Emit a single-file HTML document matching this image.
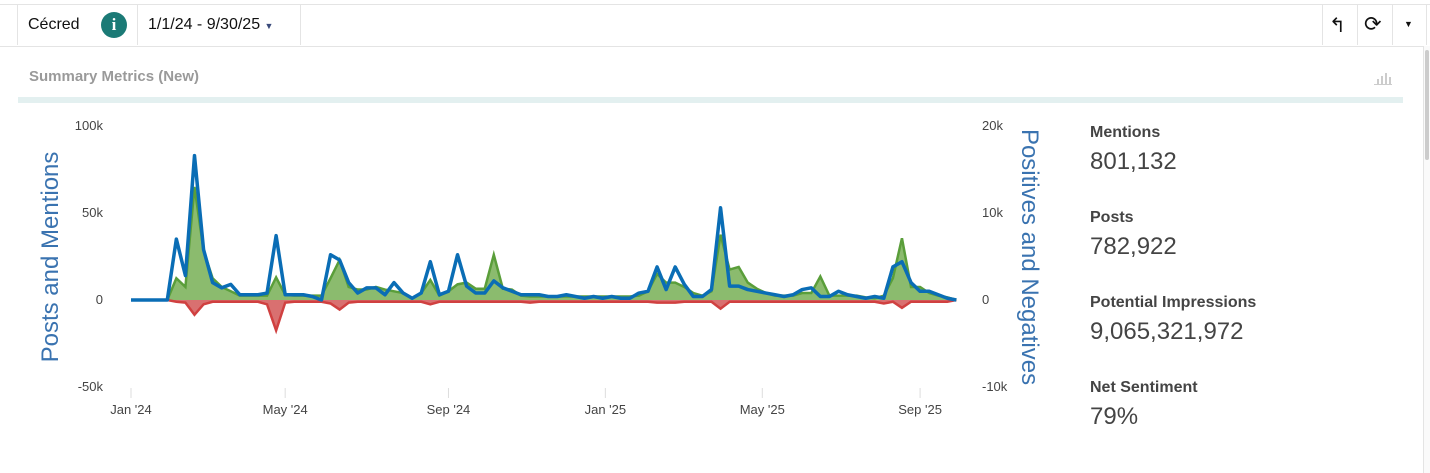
<!DOCTYPE html>
<html><head><meta charset="utf-8">
<style>
body{margin:0;width:1430px;height:473px;background:#fff;font-family:"Liberation Sans",sans-serif;overflow:hidden;position:relative}
.abs{position:absolute}
.metric-label{position:absolute;left:1090px;font-size:16px;font-weight:bold;color:#444}
.metric-value{position:absolute;left:1090px;font-size:24px;color:#444}
</style></head><body>
<div class="abs" style="left:0;top:4px;width:1430px;height:41px;border-top:1px solid #e4e4e4;border-bottom:1px solid #e4e4e4;background:#fff"></div>
<div class="abs" style="left:17px;top:5px;width:1px;height:40px;background:#e4e4e4"></div>
<div class="abs" style="left:28px;top:16px;font-size:16px;color:#111">Cécred</div>
<div class="abs" style="left:101px;top:12px;width:26px;height:26px;border-radius:50%;background:#1b7a76;color:#fff;font-weight:bold;font-size:17px;text-align:center;line-height:26px;font-family:'Liberation Serif',serif">i</div>
<div class="abs" style="left:137px;top:5px;width:1px;height:40px;background:#e4e4e4"></div>
<div class="abs" style="left:148px;top:16px;font-size:16px;color:#111">1/1/24 - 9/30/25 <span style="font-size:9px;color:#3a4a7a">▼</span></div>
<div class="abs" style="left:300px;top:5px;width:1px;height:40px;background:#e4e4e4"></div>
<div class="abs" style="left:1322px;top:5px;width:1px;height:40px;background:#e4e4e4"></div>
<div class="abs" style="left:1329px;top:13px;font-size:20px;color:#111">↰</div>
<div class="abs" style="left:1357px;top:5px;width:1px;height:40px;background:#e4e4e4"></div>
<div class="abs" style="left:1364px;top:12px;font-size:21px;color:#111;font-family:'DejaVu Sans',sans-serif">⟳</div>
<div class="abs" style="left:1392px;top:5px;width:1px;height:40px;background:#e4e4e4"></div>
<div class="abs" style="left:1404px;top:19px;font-size:9px;color:#111">▼</div>
<div class="abs" style="left:1426px;top:5px;width:1px;height:40px;background:#e4e4e4"></div>
<div class="abs" style="left:1423px;top:46px;width:7px;height:427px;border-left:1px solid #e4e4e4;background:#fafafa"><div style="margin:4px 1px;width:4px;height:110px;background:#ccc;border-radius:2px"></div></div>
<div class="abs" style="left:29px;top:68px;font-size:15px;font-weight:bold;color:#9a9a9a">Summary Metrics (New)</div>
<div class="abs" style="left:1374px;top:70px;width:18px;height:14px;border-bottom:1px solid #ccc">
<div style="position:absolute;left:3px;bottom:0;width:2px;height:5px;background:#ccc"></div><div style="position:absolute;left:7px;bottom:0;width:2px;height:8px;background:#ccc"></div><div style="position:absolute;left:11px;bottom:0;width:2px;height:11px;background:#ccc"></div><div style="position:absolute;left:15px;bottom:0;width:2px;height:7px;background:#ccc"></div></div>
<div class="abs" style="left:18px;top:97px;width:1385px;height:6px;background:#e3f0f0"></div>

<svg class="abs" style="left:0;top:0" width="1080" height="473">
<g id="axes"></g>
<g id="marks"></g>
</svg>

<div class="metric-label" style="top:124px">Mentions</div>
<div class="metric-value" style="top:148px">801,132</div>
<div class="metric-label" style="top:209px">Posts</div>
<div class="metric-value" style="top:233px">782,922</div>
<div class="metric-label" style="top:294px">Potential Impressions</div>
<div class="metric-value" style="top:318px">9,065,321,972</div>
<div class="metric-label" style="top:379px">Net Sentiment</div>
<div class="metric-value" style="top:403px">79%</div>

<script>
const mentions=[0,0,0,0,0,35,14,83,29,10,7,9,3,3,3,4,37,3,3,3,2,0,26,23,10,4,7,7,3,10,4,1,4,22,3,5,26,8,4,4,11,7,5,3,3,3,2,2,3,2,1,2,1,2,1,1,4,5,19,6,19,9,2,2,6,53,8,8,6,5,4,3,2,3,6,7,2,2,5,3,2,1,2,1,19,22,10,5,5,3,1,0];
const positives=[0,0,0,0,0,2.5,1.5,13,5.7,2.5,1.5,1,0.5,0.5,0.5,0.5,2.6,0.6,0.5,0.5,0.5,0.5,2.5,4.6,1.5,1.2,1.2,1.5,1.2,1,0.8,0.2,0.8,2.3,0.5,1,1.8,2,1.3,1.3,5.2,1.3,1.2,0.5,0.4,0.4,0.4,0.4,0.4,0.4,0.4,0.4,0.4,0.4,0.4,0.4,0.5,1,3,2,2,1.5,0.8,0.5,1,7.5,3.5,3.8,2,1.3,0.8,0.5,0.5,0.5,0.8,0.8,2.7,0.5,0.5,0.5,0.5,0.3,0.2,0.5,2.5,7.1,1.5,1.5,0.8,0.5,0.3,0];
const negatives=[0,0,0,0,0,0.2,0.3,1.7,0.5,0.2,0.2,0.2,0.2,0.2,0.2,0.5,3.5,0.3,0.2,0.2,0.2,0.2,0.4,1.1,0.3,0.2,0.2,0.2,0.2,0.2,0.2,0.2,0.2,0.5,0.2,0.2,0.2,0.2,0.2,0.2,0.2,0.2,0.2,0.2,0.3,0.2,0.2,0.2,0.2,0.2,0.2,0.2,0.2,0.2,0.2,0.2,0.2,0.2,0.3,0.3,0.3,0.2,0.2,0.2,0.2,1,0.2,0.2,0.2,0.2,0.2,0.2,0.2,0.2,0.2,0.2,0.2,0.2,0.2,0.2,0.2,0.2,0.2,0.4,0.2,0.9,0.2,0.2,0.2,0.2,0.2,0];
const leftTicks=["100k","50k","0","-50k"];const leftTickVals=[100,50,0,-50];
const rightTicks=["20k","10k","0","-10k"];const rightTickVals=[20,10,0,-10];
const xLabels=["Jan '24","May '24","Sep '24","Jan '25","May '25","Sep '25"];const xLabelWeeks=[0,17,35,52.3,69.6,87];

const NS="http://www.w3.org/2000/svg";
const x=i=>131+i*9.07;
const yL=v=>300-v*1.74;
const yR=v=>300-v*8.7;
function mk(tag,attrs,parent){const e=document.createElementNS(NS,tag);for(const k in attrs)e.setAttribute(k,attrs[k]);parent.appendChild(e);return e;}
const ax=document.getElementById('axes'),mg=document.getElementById('marks');
leftTickVals.forEach((v,i)=>{const t=mk('text',{x:103,y:yL(v)+4,'text-anchor':'end','font-size':13,fill:'#444'},ax);t.textContent=leftTicks[i];

});
rightTickVals.forEach((v,i)=>{const t=mk('text',{x:982,y:yR(v)+4,'font-size':13,fill:'#444'},ax);t.textContent=rightTicks[i];

});
xLabelWeeks.forEach((w,i)=>{const px=x(w);mk('line',{x1:px,x2:px,y1:388,y2:398,stroke:'#ddd'},ax);const t=mk('text',{x:px,y:414,'text-anchor':'middle','font-size':13,fill:'#444'},ax);t.textContent=xLabels[i];

});
let t=mk('text',{transform:'translate(58,257) rotate(-90)','text-anchor':'middle','font-size':24,fill:'#3a73b0'},ax);t.textContent='Posts and Mentions';


t=mk('text',{transform:'translate(1022,257) rotate(90)','text-anchor':'middle','font-size':24,fill:'#3a73b0'},ax);t.textContent='Positives and Negatives';


function area(arr,sign){let d='M'+x(0)+','+yR(0);arr.forEach((v,i)=>d+=' L'+x(i)+','+yR(sign*v));d+=' L'+x(arr.length-1)+','+yR(0)+'Z';return d;}
function line(arr,f){return arr.map((v,i)=>(i?'L':'M')+x(i)+','+f(v)).join(' ');}
let p=mk('path',{d:area(positives,1),fill:'#8bbb6e'},mg);


p=mk('path',{d:line(positives,yR),fill:'none',stroke:'#5a9e3a','stroke-width':2.5},mg);


p=mk('path',{d:area(negatives,-1),fill:'#d97070'},mg);


p=mk('path',{d:line(negatives,v=>yR(-v)),fill:'none',stroke:'#d04040','stroke-width':2.5},mg);


p=mk('path',{d:line(mentions,yL),fill:'none',stroke:'#0a6db5','stroke-width':3.5,'stroke-linejoin':'round'},mg);


</script>
</body></html>
